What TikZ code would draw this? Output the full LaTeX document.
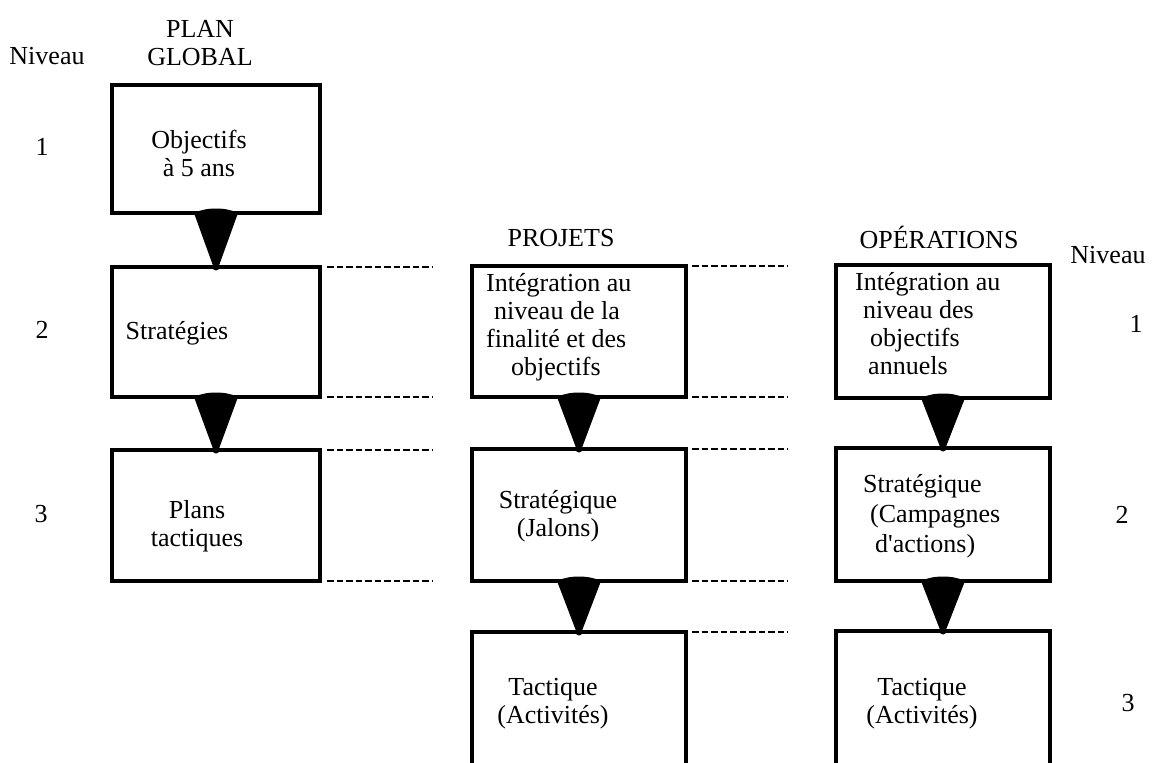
\documentclass[tikz,border=0pt]{standalone}
\usepackage{fontspec}
\setmainfont{Liberation Serif}[Ligatures=TeXOff]
\begin{document}
\begin{tikzpicture}[x=1pt,y=-1pt]
\tikzset{
  box/.style={draw, line width=3.8pt, inner sep=0pt, outer sep=0pt},
  guide/.style={line width=2.6pt, dash pattern=on 6.5pt off 3pt},
  txt/.style={font=\fontsize{26}{28}\selectfont, inner sep=0pt},
}
% funnel joining the bottom of one box to the top of the next
\newcommand\drawfunnel[2]{%
  \fill ([xshift=-22pt]#1.south)
    .. controls ([xshift=-10pt,yshift=6pt]#1.south) and ([xshift=10pt,yshift=6pt]#1.south)
    .. ([xshift=22pt]#1.south) -- ([xshift=2.5pt]#2.north) -- ([xshift=-2.5pt]#2.north) -- cycle;
  \fill (#2.north) circle (3.5pt);}

\useasboundingbox (0,0) rectangle (1155,762);
\clip (0,0) rectangle (1155,762);

% column headers and level labels
\node[txt] (nivL) at (47,56) {Niveau};
\node[txt, align=center] (hplan) at (200,43) {PLAN\\GLOBAL};
\node[txt] (hproj) at (561,238) {PROJETS};
\node[txt] (hop) at (939,237) {OPÉRATIONS};
\node[txt] (nivR) at (1108,255) {Niveau};
\node[txt] (l1) at (42,147) {1};
\node[txt] (l2) at (42,330) {2};
\node[txt] (l3) at (41,514) {3};
\node[txt] (r1) at (1136,324) {1};
\node[txt] (r2) at (1122,515) {2};
\node[txt] (r3) at (1128,703) {3};

% plan global
\node[box, minimum width=208pt, minimum height=128pt] (p1) at (216,149) {};
\node[box, minimum width=208pt, minimum height=130pt] (p2) at (216,332) {};
\node[box, minimum width=208pt, minimum height=131pt] (p3) at (216,515.5) {};
\node[txt, align=center] (tp1) at (199,153) {Objectifs\\à 5 ans};
\node[txt] (tp2) at (177,333) {Stratégies};
\node[txt, align=center] (tp3) at (197,526) {Plans\\tactiques};

% projets
\node[box, minimum width=214pt, minimum height=131pt] (j1) at (579,331.5) {};
\node[box, minimum width=214pt, minimum height=132pt] (j2) at (579,515) {};
\node[box, minimum width=214pt, minimum height=180pt] (j3) at (579,722) {};
\node[txt, align=left, anchor=west] (tj1) at (486,327)
  {Intégration au\\\hspace*{8pt}niveau de la\\finalité et des\\\hspace*{25pt}objectifs};
\node[txt, align=center] (tj2) at (558,516) {Stratégique\\(Jalons)};
\node[txt, align=center] (tj3) at (553,704) {Tactique\\(Activités)};

% operations
\node[box, minimum width=214pt, minimum height=133pt] (o1) at (943,331.5) {};
\node[box, minimum width=214pt, minimum height=133pt] (o2) at (943,514.5) {};
\node[box, minimum width=214pt, minimum height=180pt] (o3) at (943,721) {};
\node[txt, align=left, anchor=west] (to1) at (855,324)
  {Intégration au\\\hspace*{8pt}niveau des\\\hspace*{15pt}objectifs\\\hspace*{13pt}annuels};
\node[txt, align=left, anchor=west] (to2) at (863,516)
  {Stratégique\\[2pt]\hspace*{7pt}(Campagnes\\[2pt]\hspace*{12pt}d'actions)};
\node[txt, align=center] (to3) at (922,704) {Tactique\\(Activités)};

% funnels
\drawfunnel{p1}{p2}
\drawfunnel{p2}{p3}
\drawfunnel{j1}{j2}
\drawfunnel{j2}{j3}
\drawfunnel{o1}{o2}
\drawfunnel{o2}{o3}

% dashed level guides
\foreach \a/\b in {p2.north east/j1.west, p2.south east/j1.west,
                   p3.north east/j1.west, p3.south east/j1.west} {
  \draw[guide] ([xshift=7pt]\a) -- ([xshift=-40pt]\b |- \a);
}
\foreach \a/\b in {j1.north east/o1.west, j1.south east/o1.west,
                   j2.north east/o1.west, j2.south east/o1.west,
                   j3.north east/o1.west} {
  \draw[guide] ([xshift=6pt]\a) -- ([xshift=-48pt]\b |- \a);
}
\end{tikzpicture}
\end{document}
